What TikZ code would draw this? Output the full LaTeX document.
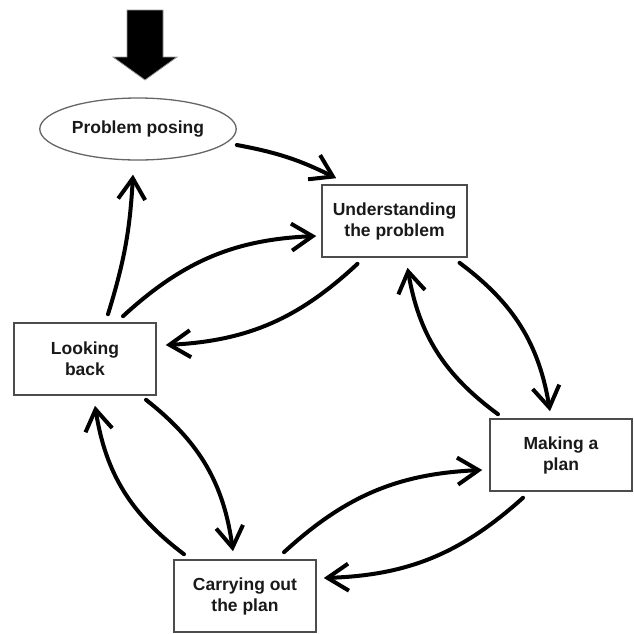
\documentclass[tikz,border=0pt]{standalone}
\usepackage{fontspec}
\setmainfont{Liberation Sans}
\usetikzlibrary{shapes, arrows.meta, calc}

\tikzset{
	stage/.style={draw=black!70, line width=1.6pt, rectangle,
		minimum width=142pt, minimum height=72pt, align=center,
		text=black!90, font=\bfseries\fontsize{17.5}{21}\selectfont},
	posing/.style={stage, ellipse, draw=black!60, line width=1.3pt,
		minimum width=192pt, minimum height=62pt},
	cyclearrow/.style={line width=4pt, line cap=round, line join=round,
		-{Straight Barb[length=21pt, width=27pt]}},
}

\begin{document}
\begin{tikzpicture}[x=1pt, y=-1pt]
	\useasboundingbox (0,0) rectangle (634,633);

	% entry arrow
	\fill[black, draw=black!40, line width=0.8pt]
		(127,10) -- (163,10) -- (163,57) -- (177,57) -- (145,80)
		-- (113,57) -- (127,57) -- cycle;

	\node[posing] (problem)       at (138,129)   {Problem posing};
	\node[stage, minimum width=145pt]
	              (understanding) at (394.5,221) {Understanding\\the problem};
	\node[stage]  (making)        at (561,455)   {Making a\\plan};
	\node[stage]  (carrying)      at (245,596)   {Carrying out\\the plan};
	\node[stage]  (looking)       at (85,359)    {Looking\\back};

	\draw[cyclearrow] ($(problem.east)+(0,16)$)
		to[bend left=8] ($(understanding.north west)+(15,-6)$);
	\draw[cyclearrow] ($(looking.north)+(23,-8)$)
		to[bend right=7] ($(problem.south)+(-5,14)$);

	\draw[cyclearrow] ($(looking.north)+(38,-6)$)
		to[bend left=20] ($(understanding.west)+(-5,15)$);
	\draw[cyclearrow] ($(understanding.south)+(-37,6)$)
		to[bend left=20] ($(looking.east)+(9,-14)$);

	\draw[cyclearrow] ($(understanding.south)+(65,5)$)
		to[bend left=22] ($(making.north)+(-11,-7)$);
	\draw[cyclearrow] ($(making.north)+(-63,-4)$)
		to[bend left=22] ($(understanding.south)+(13,10)$);

	\draw[cyclearrow] ($(making.south)+(-38,6)$)
		to[bend left=20] ($(carrying.east)+(7,-18)$);
	\draw[cyclearrow] ($(carrying.north)+(39,-7)$)
		to[bend left=20] ($(making.west)+(-7,15)$);

	\draw[cyclearrow] ($(looking.south)+(61,4)$)
		to[bend left=22] ($(carrying.north)+(-12,-8)$);
	\draw[cyclearrow] ($(carrying.north)+(-61,-5)$)
		to[bend left=22] ($(looking.south)+(10,10)$);
\end{tikzpicture}
\end{document}
